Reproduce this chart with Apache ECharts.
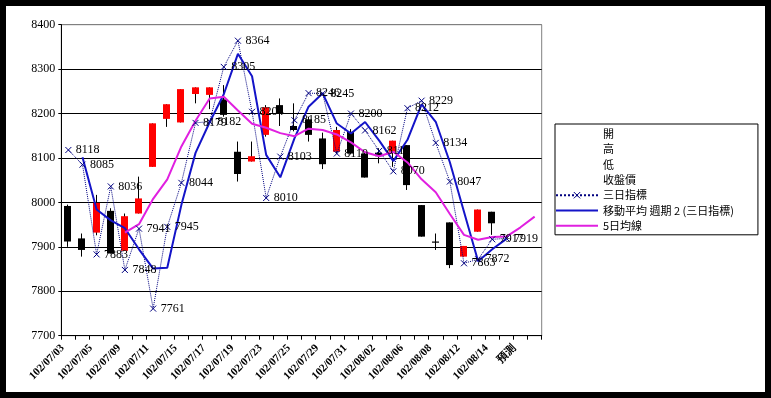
<!DOCTYPE html>
<html><head><meta charset="utf-8">
<script src="https://cdn.jsdelivr.net/npm/echarts@6/dist/echarts.min.js"></script>
<style>
html,body{margin:0;padding:0;background:#000;width:771px;height:398px;overflow:hidden;}
#c{position:absolute;left:6px;top:6px;width:759px;height:386px;background:#fff;}
</style></head><body><div id="c"></div>
<script>
// ---- data ----
const categories = ['102/07/03','102/07/04','102/07/05','102/07/08','102/07/09','102/07/10','102/07/11','102/07/12',
  '102/07/15','102/07/16','102/07/17','102/07/18','102/07/19','102/07/22','102/07/23','102/07/24','102/07/25',
  '102/07/26','102/07/29','102/07/30','102/07/31','102/08/01','102/08/02','102/08/05','102/08/06','102/08/07',
  '102/08/08','102/08/09','102/08/12','102/08/13','102/08/14',' ','預測','  '];
const openVals  = [7992,7919,7932,7981,7891,7975,8080,8188,8180,8244,8242,8232,8114,8092,8152,8219,8172,8187,8144,8114,8159,8110,8112,8114,8129,7994,7912,7955,7878,7934,7979];
const highVals  = [7995,7930,8017,7987,7975,8058,8178,8221,8255,8259,8259,8264,8137,8137,8219,8234,8223,8193,8157,8170,8165,8114,8122,8139,8129,7994,7930,7955,7902,7984,7979];
const lowVals   = [7900,7878,7926,7885,7891,7975,8080,8170,8180,8223,8210,8193,8047,8092,8148,8172,8160,8137,8075,8110,8108,8056,8088,8080,8028,7923,7893,7852,7878,7934,7927];
const closeVals = [7912,7893,7999,7885,7969,8009,8178,8221,8255,8259,8259,8197,8064,8104,8214,8199,8163,8152,8086,8163,8110,8056,8104,8139,8039,7923,7910,7859,7902,7984,7953];
const threeDay  = [8118,8085,7883,8036,7848,7941,7761,7945,8044,8179,8182,8305,8364,8204,8010,8103,8185,8246,8245,8110,8200,8162,8116,8070,8212,8229,8134,8047,7863,7872,7917,7919,null,null];
const ma2Vals   = [null,8101.5,7984,7959.5,7942,7894.5,7851,7853,7994.5,8111.5,8180.5,8243.5,8334.5,8284,8107,8056.5,8144,8215.5,8245.5,8177.5,8155,8181,8139,8093,8141,8220.5,8181.5,8090.5,7979,7867.5,7894.5,7918,null,null];
const ma5Vals   = [null,null,null,null,7932,7951,8008,8052,8126,8184,8234,8238,8207,8177,8168,8156,8149,8166,8163,8153,8135,8113,8104,8114,8090,8052,8023,7974,7927,7916,7922,7923,7944,7968];
const yMin = 7700, yMax = 8400, yStep = 100;
const legendNames = ['開','高','低','收盤價','三日指標','移動平均 週期 2 (三日指標)','5日均線'];

const candleData = openVals.map((o, i) => [i, o, closeVals[i], lowVals[i], highVals[i]]);

const serif = "'Liberation Serif','Times New Roman','Noto Sans CJK TC',serif";
const cjk = "'Noto Sans CJK TC','Liberation Sans',sans-serif";

const chart = echarts.init(document.getElementById('c'), null, {renderer:'canvas'});
const transparent = 'rgba(0,0,0,0)';
const hiddenIcon = {icon:'rect', itemStyle:{color:transparent, borderWidth:0, opacity:0}, lineStyle:{opacity:0}};
chart.setOption({
  animation:false,
  backgroundColor:'#fff',
  grid:{left:55.3, top:18.7, right:223.3, bottom:56.3, show:true, borderColor:'#808080', borderWidth:1, backgroundColor:'#fff'},
  legend:{
    orient:'vertical', left:549, top:118,
    itemWidth:42, itemHeight:8, itemGap:3.3,
    padding:[4,24,3,0],
    borderColor:'#000', borderWidth:1, backgroundColor:'#fff',
    textStyle:{fontSize:11, lineHeight:12, color:'#000', fontFamily:cjk},
    selectedMode:false,
    data:[
      Object.assign({name:legendNames[0]}, hiddenIcon),
      Object.assign({name:legendNames[1]}, hiddenIcon),
      Object.assign({name:legendNames[2]}, hiddenIcon),
      Object.assign({name:legendNames[3]}, hiddenIcon),
      {name:legendNames[4], itemStyle:{borderWidth:1}},
      {name:legendNames[5], itemStyle:{opacity:0}},
      {name:legendNames[6], itemStyle:{opacity:0}}
    ]
  },
  xAxis:{
    type:'category', data:categories, boundaryGap:true,
    axisLine:{lineStyle:{color:'#000', width:1}},
    axisTick:{show:true, interval:0, length:4, lineStyle:{color:'#000'}},
    axisLabel:{interval:1, rotate:45, margin:5, padding:[0,8,0,0], fontSize:11, fontWeight:'bold', color:'#000', fontFamily:serif},
    splitLine:{show:false}
  },
  yAxis:{
    type:'value', min:yMin, max:yMax, interval:yStep,
    axisLine:{show:true, lineStyle:{color:'#000'}},
    axisTick:{show:true, length:3, lineStyle:{color:'#000'}},
    axisLabel:{margin:6, fontSize:12, color:'#000', fontFamily:serif, formatter:v => String(v)},
    splitLine:{show:true, lineStyle:{color:['#000','#000','#000','#000','#000','#000','#000','#808080'], width:1}}
  },
  series:[
    {name:legendNames[0], type:'custom', data:[], itemStyle:{color:transparent}, renderItem:()=>null},
    {name:legendNames[1], type:'custom', data:[], itemStyle:{color:transparent}, renderItem:()=>null},
    {name:legendNames[2], type:'custom', data:[], itemStyle:{color:transparent}, renderItem:()=>null},
    {
      name:legendNames[3], type:'custom', data:candleData,
      itemStyle:{color:transparent},
      encode:{x:0, y:[1,2,3,4]},
      renderItem:function(params, api){
        const i = api.value(0);
        const o = api.coord([i, api.value(1)]);
        const c = api.coord([i, api.value(2)]);
        const l = api.coord([i, api.value(3)]);
        const h = api.coord([i, api.value(4)]);
        const up = api.value(2) > api.value(1);
        const x = Math.round(o[0]) - 1;
        const top = Math.min(o[1], c[1]), bot = Math.max(o[1], c[1]);
        return {type:'group', children:[
          {type:'line', shape:{x1:x+0.5, y1:h[1], x2:x+0.5, y2:l[1]}, style:{stroke:'#000', lineWidth:1}},
          {type:'rect', shape:{x:x-3, y:top, width:7, height:Math.max(bot-top,1.2)}, style:{fill: up ? '#FF0000' : '#000', stroke:null}}
        ]};
      }
    },
    {
      name:legendNames[4], type:'line', data:threeDay,
      symbol:'path://M0,0L10,10M10,0L0,10', symbolSize:6, showAllSymbol:true,
      itemStyle:{color:transparent, borderColor:'#000080', borderWidth:1},
      lineStyle:{type:'dotted', color:'#000080', width:1},
      label:{show:true, position:'right', distance:4, color:'#000', fontSize:12, fontFamily:serif},
      emphasis:{disabled:true}
    },
    {
      name:legendNames[5], type:'line', data:ma2Vals, symbol:'none',
      lineStyle:{color:'#1414C8', width:2}, itemStyle:{color:'#1414C8'},
      emphasis:{disabled:true}
    },
    {
      name:legendNames[6], type:'line', data:ma5Vals, symbol:'none',
      lineStyle:{color:'#E020E0', width:2}, itemStyle:{color:'#E020E0'},
      emphasis:{disabled:true}
    }
  ]
});
</script></body></html>
